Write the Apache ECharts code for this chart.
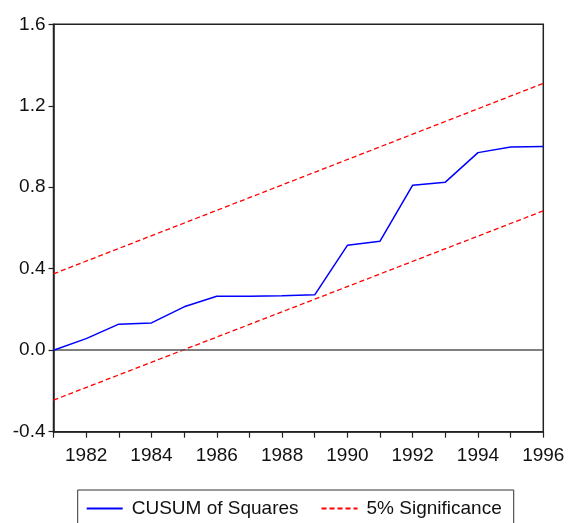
<!DOCTYPE html>
<html>
<head>
<meta charset="utf-8">
<script src="https://cdn.jsdelivr.net/npm/echarts@6/dist/echarts.min.js"></script>
<style>html,body{margin:0;padding:0;background:#fff;}#c{width:568px;height:523px;}</style>
</head>
<body>
<div id="c"></div>
<script>
var years = [1981,1982,1983,1984,1985,1986,1987,1988,1989,1990,1991,1992,1993,1994,1995,1996];
var cusumSq = [0.0,0.057,0.128,0.134,0.213,0.265,0.265,0.267,0.272,0.515,0.535,0.81,0.825,0.97,0.998,1.0];
var bandYears = [1981,1996];
var upperBand = [0.375,1.31];
var lowerBand = [-0.245,0.684];
var yTicks = [-0.4,0.0,0.4,0.8,1.2,1.6];

function pairs(xs, ys){ return xs.map(function(x,i){ return [x, ys[i]]; }); }

var chart = echarts.init(document.getElementById('c'), null, {renderer:'canvas'});
var font = 'Liberation Sans, Arial, sans-serif';
chart.setOption({
  animation:false,
  grid:{left:53.5, right:24.7, top:24.3, bottom:91.3, show:true, borderColor:'#222', borderWidth:1.5, backgroundColor:'transparent'},
  xAxis:{
    type:'value', min:1981, max:1996, interval:1,
    axisLine:{show:true, onZero:false, lineStyle:{color:'#222', width:1.5}},
    axisTick:{show:true, length:6, lineStyle:{color:'#222', width:1.2}},
    splitLine:{show:false},
    axisLabel:{color:'#111', fontFamily:font, fontSize:19, margin:15,
      formatter:function(v){ return (v % 2 === 0) ? String(v) : ''; }}
  },
  yAxis:{
    type:'value', min:yTicks[0], max:yTicks[yTicks.length-1], interval:0.4,
    axisLine:{show:true, onZero:false, lineStyle:{color:'#222', width:1.5}},
    axisTick:{show:true, length:5, lineStyle:{color:'#222', width:1.2}},
    splitLine:{show:false},
    axisLabel:{color:'#111', fontFamily:font, fontSize:19, margin:8,
      formatter:function(v){ return v.toFixed(1); }}
  },
  legend:{
    left:77.7, top:490, orient:'horizontal',
    padding:[9,12,40,8],
    borderColor:'#333', borderWidth:1,
    itemWidth:36, itemHeight:18, itemGap:22,
    itemStyle:{opacity:0},
    textStyle:{color:'#111', fontFamily:font, fontSize:19, padding:[0,0,0,4]},
    data:['CUSUM of Squares','5% Significance']
  },
  series:[
    {name:'CUSUM of Squares', type:'line', data:pairs(years,cusumSq), symbol:'none',
     lineStyle:{color:'#0000ff', width:1.5}, itemStyle:{color:'#0000ff'}, z:5,
     markLine:{silent:true, symbol:'none', label:{show:false},
       lineStyle:{color:'#555', width:1.5, type:'solid'}, data:[{yAxis:0}]}},
    {name:'5% Significance', type:'line', data:pairs(bandYears,upperBand), symbol:'none',
     lineStyle:{color:'#ff0000', width:1.3, type:[5,3]}, itemStyle:{color:'#ff0000'}},
    {name:'5% Significance', type:'line', data:pairs(bandYears,lowerBand), symbol:'none',
     lineStyle:{color:'#ff0000', width:1.3, type:[5,3]}, itemStyle:{color:'#ff0000'}}
  ]
});
</script>
</body>
</html>
